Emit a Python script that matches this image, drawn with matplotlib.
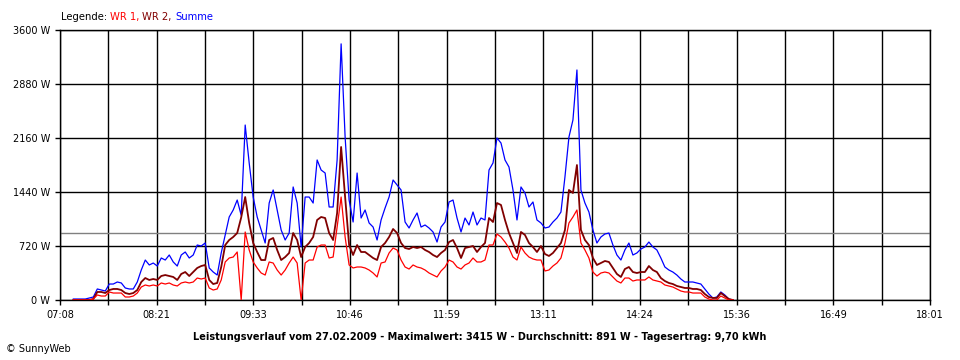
import numpy as np
import matplotlib
matplotlib.use("Agg")
import matplotlib.pyplot as plt

# minutes since midnight, one sample every 3 minutes from 07:18
start_min = 438
step_min = 3

wr1 = [0, 0, 0, 0, 0, 13, 67, 53, 53, 107,
       93, 93, 93, 40, 40, 53, 93, 173, 200, 187,
       200, 187, 227, 213, 227, 200, 187, 227, 240, 227,
       240, 293, 280, 293, 160, 133, 147, 267, 507, 560,
       573, 640, 0, 907, 667, 507, 427, 360, 333, 507,
       493, 400, 333, 400, 493, 573, 493, 0, 493, 533,
       533, 707, 733, 733, 560, 573, 973, 1373, 840, 467,
       427, 440, 440, 427, 400, 360, 307, 493, 507, 627,
       693, 667, 533, 440, 413, 467, 440, 427, 400, 360,
       333, 307, 387, 440, 533, 507, 440, 413, 467, 493,
       560, 507, 507, 533, 733, 733, 880, 840, 773, 693,
       573, 533, 707, 627, 573, 547, 533, 533, 387, 400,
       453, 493, 560, 760, 1027, 1107, 1200, 760, 667, 560,
       373, 320, 360, 373, 360, 307, 253, 227, 293, 293,
       253, 267, 267, 267, 307, 267, 253, 240, 200, 187,
       173, 147, 120, 107, 107, 93, 93, 93, 40, 13,
       0, 0, 53, 27, 0, 0]

wr2 = [0, 0, 0, 0, 0, 13, 107, 107, 93, 133,
       147, 147, 133, 93, 80, 93, 133, 240, 293, 267,
       280, 267, 320, 333, 320, 307, 267, 347, 373, 320,
       373, 427, 453, 467, 267, 213, 227, 440, 733, 800,
       840, 893, 1100, 1373, 1027, 760, 640, 533, 533, 800,
       827, 667, 533, 573, 627, 893, 800, 573, 707, 760,
       840, 1067, 1107, 1093, 893, 800, 1160, 2040, 1373, 733,
       600, 733, 640, 640, 600, 560, 533, 707, 760, 840,
       947, 893, 760, 693, 680, 707, 693, 707, 667, 640,
       600, 573, 627, 667, 773, 800, 693, 560, 693, 707,
       720, 640, 707, 760, 1093, 1040, 1293, 1267, 1067, 893,
       760, 627, 907, 867, 760, 707, 640, 720, 613, 587,
       627, 693, 760, 933, 1467, 1427, 1800, 933, 800, 733,
       560, 467, 493, 520, 507, 427, 347, 307, 413, 440,
       373, 360, 373, 373, 453, 400, 373, 293, 253, 227,
       213, 187, 173, 160, 160, 147, 147, 133, 80, 40,
       27, 27, 93, 53, 13, 0]

summe = [13, 13, 13, 13, 27, 40, 147, 133, 120, 213,
         213, 240, 227, 160, 147, 147, 240, 400, 533, 467,
         493, 453, 560, 533, 600, 507, 453, 600, 640, 560,
         600, 733, 720, 760, 427, 373, 333, 627, 867, 1107,
         1200, 1333, 1130, 2333, 1827, 1373, 1107, 933, 760, 1293,
         1467, 1200, 933, 800, 893, 1507, 1293, 707, 1373, 1373,
         1293, 1867, 1733, 1693, 1240, 1240, 1867, 3415, 2173, 1333,
         1040, 1693, 1093, 1200, 1027, 973, 800, 1067, 1227, 1373,
         1600, 1533, 1467, 1040, 960, 1067, 1160, 973, 1000, 960,
         907, 773, 973, 1040, 1307, 1333, 1093, 907, 1093, 1000,
         1173, 1000, 1093, 1067, 1733, 1827, 2160, 2093, 1867, 1773,
         1467, 1067, 1507, 1427, 1240, 1307, 1067, 1027, 960, 973,
         1040, 1093, 1173, 1640, 2173, 2400, 3067, 1467, 1293, 1173,
         933, 760, 840, 880, 893, 733, 600, 533, 667, 760,
         600, 627, 680, 707, 773, 707, 667, 560, 440, 400,
         373, 333, 280, 240, 240, 240, 227, 213, 147, 80,
         27, 40, 107, 67, 13, 0]

average = 891
y_ticks = [0, 720, 1440, 2160, 2880, 3600]
x_labels = ["07:08", "08:21", "09:33", "10:46", "11:59",
            "13:11", "14:24", "15:36", "16:49", "18:01"]
x_min, x_max = 428, 1081  # 07:08 .. 18:01
title = ("Leistungsverlauf vom 27.02.2009 - Maximalwert: 3415 W - "
         "Durchschnitt: 891 W - Tagesertrag: 9,70 kWh")
legend_parts = [("WR 1,", '#ff0000'), ("WR 2,", '#800000'), ("Summe", '#0000ff')]

plt.rcParams['font.family'] = ['DejaVu Sans']

t = start_min + step_min * np.arange(len(summe))

fig = plt.figure(figsize=(9.6, 3.6), dpi=100)
ax = fig.add_axes([60 / 960, 60 / 360, 870 / 960, 270 / 360])

ax.plot(t, summe, color='#0000ff', lw=0.9, zorder=3)
ax.plot(t, wr2, color='#800000', lw=1.3, zorder=4)
ax.plot(t, wr1, color='#ff0000', lw=0.9, zorder=5)
ax.axhline(average, color='#808080', lw=1.0, zorder=2)

ax.set_xlim(x_min, x_max)
ax.set_ylim(0, 3600)

# grid every half label step, labels on every second line
grid_x = np.linspace(x_min, x_max, 19)
ax.set_xticks(grid_x)
ax.set_xticklabels([x_labels[k // 2] if k % 2 == 0 else "" for k in range(19)],
                   fontsize=7)
ax.set_yticks(y_ticks)
ax.set_yticklabels([f"{v} W" for v in y_ticks], fontsize=7)
ax.tick_params(length=3.6, width=1.0, color='black', pad=3.6)
ax.grid(True, color='black', lw=1.0, zorder=1)
ax.set_axisbelow(True)
for s in ax.spines.values():
    s.set_color('black')
    s.set_linewidth(1.0)

fig.text(0.5, 1 - 337 / 360, title, ha='center', va='center',
         fontsize=7, fontweight='bold')
fig.text(6 / 960, 1 - 349 / 360, "\u00a9 SunnyWeb", fontsize=7, va='center')

# coloured legend line, each part placed after the previous one
prev = fig.text(61 / 960, 1 - 17 / 360, "Legende:", fontsize=7.2,
                va='center', color='black')
for txt, col in legend_parts:
    prev = ax.annotate(txt, xy=(1, 0), xycoords=prev,
                       xytext=(3, 0), textcoords='offset pixels',
                       fontsize=7.2, color=col, va='bottom', ha='left',
                       annotation_clip=False)

fig.savefig("out.png", dpi=100)
